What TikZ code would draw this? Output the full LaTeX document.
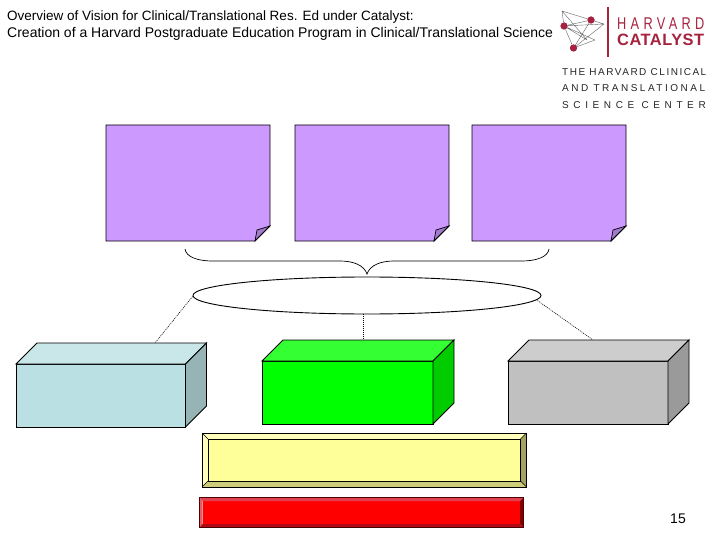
\documentclass[tikz,border=0pt]{standalone}
\usepackage{fontspec}
\setmainfont{Liberation Sans}
\newfontfamily\lsA[LetterSpace=15]{Liberation Sans}
\newfontfamily\lsB[LetterSpace=25]{Liberation Sans}
\newfontfamily\lsC[LetterSpace=46]{Liberation Sans}
\newfontfamily\lsH[LetterSpace=34]{Liberation Sans}
\newfontfamily\lsK[LetterSpace=3]{Liberation Sans}
\usetikzlibrary{shapes.geometric}
\definecolor{purp}{HTML}{CC99FF}
\definecolor{purpd}{HTML}{A37ACC}
\definecolor{cyF}{HTML}{BBE0E3}
\definecolor{cyT}{HTML}{C9E6E9}
\definecolor{cyS}{HTML}{96B3B6}
\definecolor{grF}{HTML}{00FF00}
\definecolor{grT}{HTML}{33FF33}
\definecolor{grS}{HTML}{00CC00}
\definecolor{gyF}{HTML}{C0C0C0}
\definecolor{gyT}{HTML}{CDCDCD}
\definecolor{gyS}{HTML}{9A9A9A}
\definecolor{yeF}{HTML}{FFFF99}
\definecolor{yeT}{HTML}{FFFFBB}
\definecolor{yeB}{HTML}{CCCC7A}
\definecolor{yeR}{HTML}{A3A35F}
\definecolor{reT}{HTML}{E04050}
\definecolor{reL}{HTML}{E85A66}
\definecolor{reB}{HTML}{B00A14}
\definecolor{reR}{HTML}{800000}
\definecolor{harv}{HTML}{A6233F}
\tikzset{
  edge/.style={draw=black,line width=0.9pt,line join=miter},
  link/.style={draw=black,line width=0.6pt,dash pattern=on 1pt off 1pt},
  titletext/.style={inner sep=0pt,anchor=base west},
  logotext/.style={inner sep=0pt,anchor=west,text=black!85},
  net/.style={draw=black!60,line width=0.4pt},
  dot/.style={circle,fill=harv,inner sep=0pt,minimum size=7pt}
}
\newcommand{\notebox}[5]{%
  \fill[purp] (#1,#2) -- (#3,#2) -- (#3,#4-15) -- (#3-15,#4) -- (#1,#4) -- cycle;
  \filldraw[fill=purpd,line width=0.7pt] (#3-15,#4) -- (#3-13,#4-11) -- (#3,#4-15) -- cycle;
  \draw[edge] (#3-15,#4) -- (#1,#4) -- (#1,#2) -- (#3,#2) -- (#3,#4-15) -- cycle;
  \coordinate (#5) at (#3,#2);
}
\newcommand{\cuboid}[8]{% x0 y0 x1 y1 depth front top side
  \filldraw[edge,fill=#6] (#1,#4) rectangle (#3,#2);
  \filldraw[edge,fill=#7] (#1,#2) -- (#1+#5,#2-#5) -- (#3+#5,#2-#5) -- (#3,#2) -- cycle;
  \filldraw[edge,fill=#8] (#3,#2) -- (#3+#5,#2-#5) -- (#3+#5,#4-#5) -- (#3,#4) -- cycle;
}
\begin{document}
\begin{tikzpicture}[x=1pt,y=-1pt]
\useasboundingbox (0,0) rectangle (720,540);
\fill[white] (0,0) rectangle (720,540);
% title
\node[titletext,font=\fontsize{13.5}{14}\selectfont] (t1) at (7,20.5) {Overview of Vision for Clinical/Translational Res. Ed under Catalyst:};
\node[titletext,font=\fontsize{14}{14}\selectfont] (t2) at (7,37.5) {Creation of a Harvard Postgraduate Education Program in Clinical/Translational Science};
% logo
\node[dot] (d1) at (564,26) {};
\node[dot] (d2) at (591,20) {};
\node[dot] (d3) at (573.5,48) {};
\coordinate (n1) at (562,11);
\coordinate (n2) at (604,24);
\coordinate (n3) at (595,40);
\coordinate (n4) at (587,40);
\draw[net] (n1) -- (d2) (n1) -- (d1) (n1) -- (n2) (d1) -- (n2) (d1) -- (d2) (d1) -- (n4) (d1) -- (n3) (d2) -- (n2) (n2) -- (d3) (d2) -- (d3) (d3) -- (d1) (n1) -- (n4) (d3) -- (n3);
\node[dot] at (d1) {};
\node[dot] at (d2) {};
\node[dot] at (d3) {};
\coordinate (v1) at (608,7);
\coordinate (v2) at (608,57);
\draw[harv,line width=1.1pt] (v1) -- (v2);
\node[logotext,text=harv] (h1) at (617,24) {\scalebox{0.75}[1]{\fontsize{17}{17}\selectfont\lsH HARVARD}};
\node[logotext,text=harv,font=\fontsize{16.4}{17}\selectfont\bfseries\lsK] (h2) at (617,40) {\textbf{CATALYST}};
\node[logotext,font=\fontsize{10}{10}\selectfont\lsA] (h3) at (562,72) {THE HARVARD CLINICAL};
\node[logotext,font=\fontsize{10}{10}\selectfont\lsB] (h4) at (562,88.5) {AND TRANSLATIONAL};
\node[logotext,font=\fontsize{10}{10}\selectfont\lsC] (h5) at (562,105) {SCIENCE CENTER};
% notes
\notebox{106}{125}{270}{241}{na}
\notebox{295}{125}{449}{241}{nb}
\notebox{472}{125}{626}{241}{nc}
% brace
\coordinate (bl) at (185,249);
\coordinate (bm) at (367,274);
\coordinate (br) at (549,249);
\draw[black,line width=0.7pt] (bl) .. controls (186,257) and (198,261) .. (212,261)
  -- (340,261) .. controls (353,261) and (364,265) .. (bm)
  .. controls (370,265) and (381,261) .. (394,261) -- (522,261)
  .. controls (536,261) and (548,257) .. (br);
% links
\node[draw=black,line width=0.9pt,fill=white,ellipse,minimum width=348pt,minimum height=37pt,inner sep=0pt] (ell) at (367,295.5) {};
\coordinate (c1) at (155,343);
\coordinate (c2) at (363,340);
\coordinate (c3) at (593,340);
\draw[link] (ell.west) ++(0,1) -- (c1);
\draw[link] (363,314) -- (c2);
\draw[link] (ell.east) ++(-4,5) -- (c3);
% cuboids
\cuboid{16}{364}{185.5}{427}{21}{cyF}{cyT}{cyS}
\cuboid{262}{361}{433}{424}{21}{grF}{grT}{grS}
\cuboid{508}{361}{668}{424}{21}{gyF}{gyT}{gyS}
% yellow bevel
\fill[yeF] (208,439) rectangle (520.5,481);
\fill[yeT] (202,433) -- (526.5,433) -- (520.5,439) -- (208,439) -- cycle;
\fill[yeT] (202,433) -- (208,439) -- (208,481) -- (202,487) -- cycle;
\fill[yeB] (202,487) -- (526.5,487) -- (520.5,481) -- (208,481) -- cycle;
\fill[yeR] (526.5,433) -- (520.5,439) -- (520.5,481) -- (526.5,487) -- cycle;
\draw[black,line width=0.8pt] (202,433) rectangle (526.5,487);
\draw[black,line width=0.8pt] (208,439) rectangle (520.5,481);
\draw[black,line width=0.4pt] (202,433) -- (208,439) (526.5,433) -- (520.5,439) (202,487) -- (208,481) (526.5,487) -- (520.5,481);
% red bevel
\fill[red] (202.5,501) rectangle (520,524);
\fill[reT] (199.5,497.5) -- (523.5,497.5) -- (520,501) -- (202.5,501) -- cycle;
\fill[reL] (199.5,497.5) -- (202.5,501) -- (202.5,524) -- (199.5,527.5) -- cycle;
\fill[reB] (199.5,527.5) -- (523.5,527.5) -- (520,524) -- (202.5,524) -- cycle;
\fill[reR] (523.5,497.5) -- (520,501) -- (520,524) -- (523.5,527.5) -- cycle;
\draw[black!70!red,line width=0.7pt] (199.5,497.5) rectangle (523.5,527.5);
% page number
\node[inner sep=0pt,font=\fontsize{14}{14}\selectfont] (pg) at (678,518.5) {15};
\end{tikzpicture}
\end{document}
